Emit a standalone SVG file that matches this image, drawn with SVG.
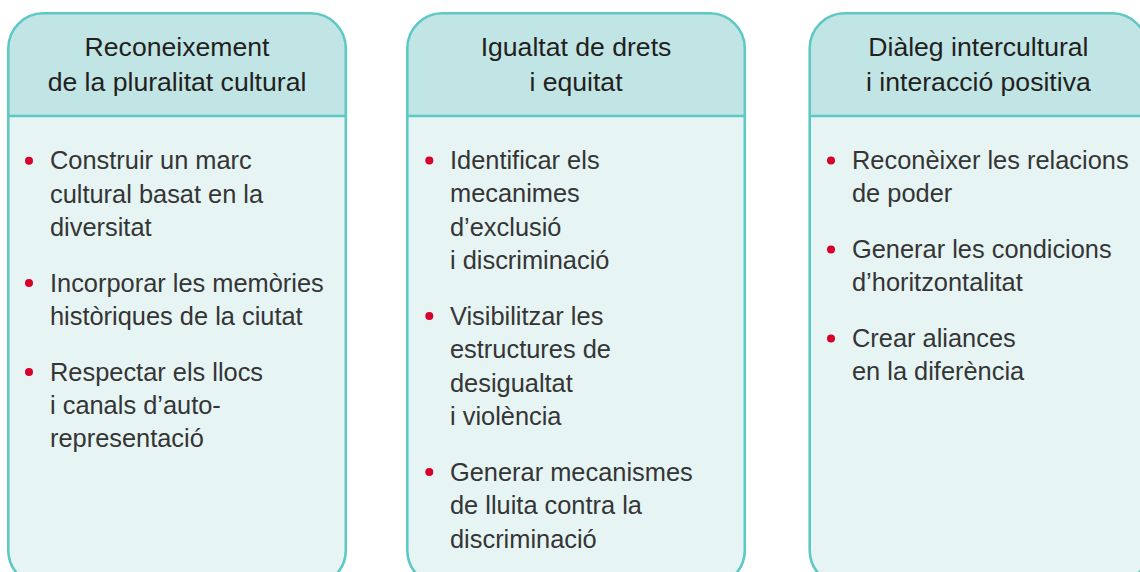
<svg xmlns="http://www.w3.org/2000/svg" width="1140" height="572" viewBox="0 0 1140 572">
<style>
.body{fill:#e6f4f4;stroke:none}
.head{fill:#c1e5e5;stroke:none}
.frame{fill:none;stroke:#5ec8c5;stroke-width:2.6}
.div{stroke:#5ec8c5;stroke-width:2.6}
.ht{font-family:"Liberation Sans",Arial,sans-serif;font-size:26.6px;fill:#231f20;text-anchor:middle}
.bt{font-family:"Liberation Sans",Arial,sans-serif;font-size:25.4px;fill:#353535}
.dot{fill:#d7002b}
</style>
<defs>
<g id="shape">
<rect class="body" x="0" y="13.3" width="337.5" height="572" rx="35"/>
<path class="head" d="M0,116 V48.3 A35,35 0 0 1 35,13.3 H302.5 A35,35 0 0 1 337.5,48.3 V116 Z"/>
<line class="div" x1="0" y1="116" x2="337.5" y2="116"/>
<rect class="frame" x="0" y="13.3" width="337.5" height="572" rx="35"/>
</g>
</defs>
<g id="card1" transform="translate(8.3,0)">
<use href="#shape"/>
<text class="ht" x="168.7" y="56">Reconeixement</text>
<text class="ht" x="168.7" y="90.7">de la pluralitat cultural</text>
<circle class="dot" cx="20.7" cy="160.7" r="4"/>
<text class="bt" x="41.7" y="169.3">Construir un marc</text>
<text class="bt" x="41.7" y="202.7">cultural basat en la</text>
<text class="bt" x="41.7" y="236">diversitat</text>
<circle class="dot" cx="20.7" cy="283" r="4"/>
<text class="bt" x="41.7" y="291.7">Incorporar les memòries</text>
<text class="bt" x="41.7" y="325">històriques de la ciutat</text>
<circle class="dot" cx="20.7" cy="372" r="4"/>
<text class="bt" x="41.7" y="380.7">Respectar els llocs</text>
<text class="bt" x="41.7" y="414">i canals d’auto-</text>
<text class="bt" x="41.7" y="447.3">representació</text>
</g>
<g id="card2" transform="translate(407.3,0)">
<use href="#shape"/>
<text class="ht" x="168.7" y="56">Igualtat de drets</text>
<text class="ht" x="168.7" y="90.7">i equitat</text>
<circle class="dot" cx="22" cy="160.5" r="4"/>
<text class="bt" x="42.7" y="169">Identificar els</text>
<text class="bt" x="42.7" y="202.4">mecanimes</text>
<text class="bt" x="42.7" y="235.8">d’exclusió</text>
<text class="bt" x="42.7" y="269.2">i discriminació</text>
<circle class="dot" cx="22" cy="316" r="4"/>
<text class="bt" x="42.7" y="324.7">Visibilitzar les</text>
<text class="bt" x="42.7" y="358.1">estructures de</text>
<text class="bt" x="42.7" y="391.5">desigualtat</text>
<text class="bt" x="42.7" y="424.9">i violència</text>
<circle class="dot" cx="22" cy="472" r="4"/>
<text class="bt" x="42.7" y="481">Generar mecanismes</text>
<text class="bt" x="42.7" y="514.4">de lluita contra la</text>
<text class="bt" x="42.7" y="547.8">discriminació</text>
</g>
<g id="card3" transform="translate(809.7,0)">
<use href="#shape"/>
<text class="ht" x="168.7" y="56">Diàleg intercultural</text>
<text class="ht" x="168.7" y="90.7">i interacció positiva</text>
<circle class="dot" cx="21.3" cy="160.5" r="4"/>
<text class="bt" x="42.3" y="169">Reconèixer les relacions</text>
<text class="bt" x="42.3" y="202.4">de poder</text>
<circle class="dot" cx="21.3" cy="249.5" r="4"/>
<text class="bt" x="42.3" y="258">Generar les condicions</text>
<text class="bt" x="42.3" y="291.4">d’horitzontalitat</text>
<circle class="dot" cx="21.3" cy="338.5" r="4"/>
<text class="bt" x="42.3" y="347">Crear aliances</text>
<text class="bt" x="42.3" y="380.4">en la diferència</text>
</g>
<g id="connectors"/>
</svg>
